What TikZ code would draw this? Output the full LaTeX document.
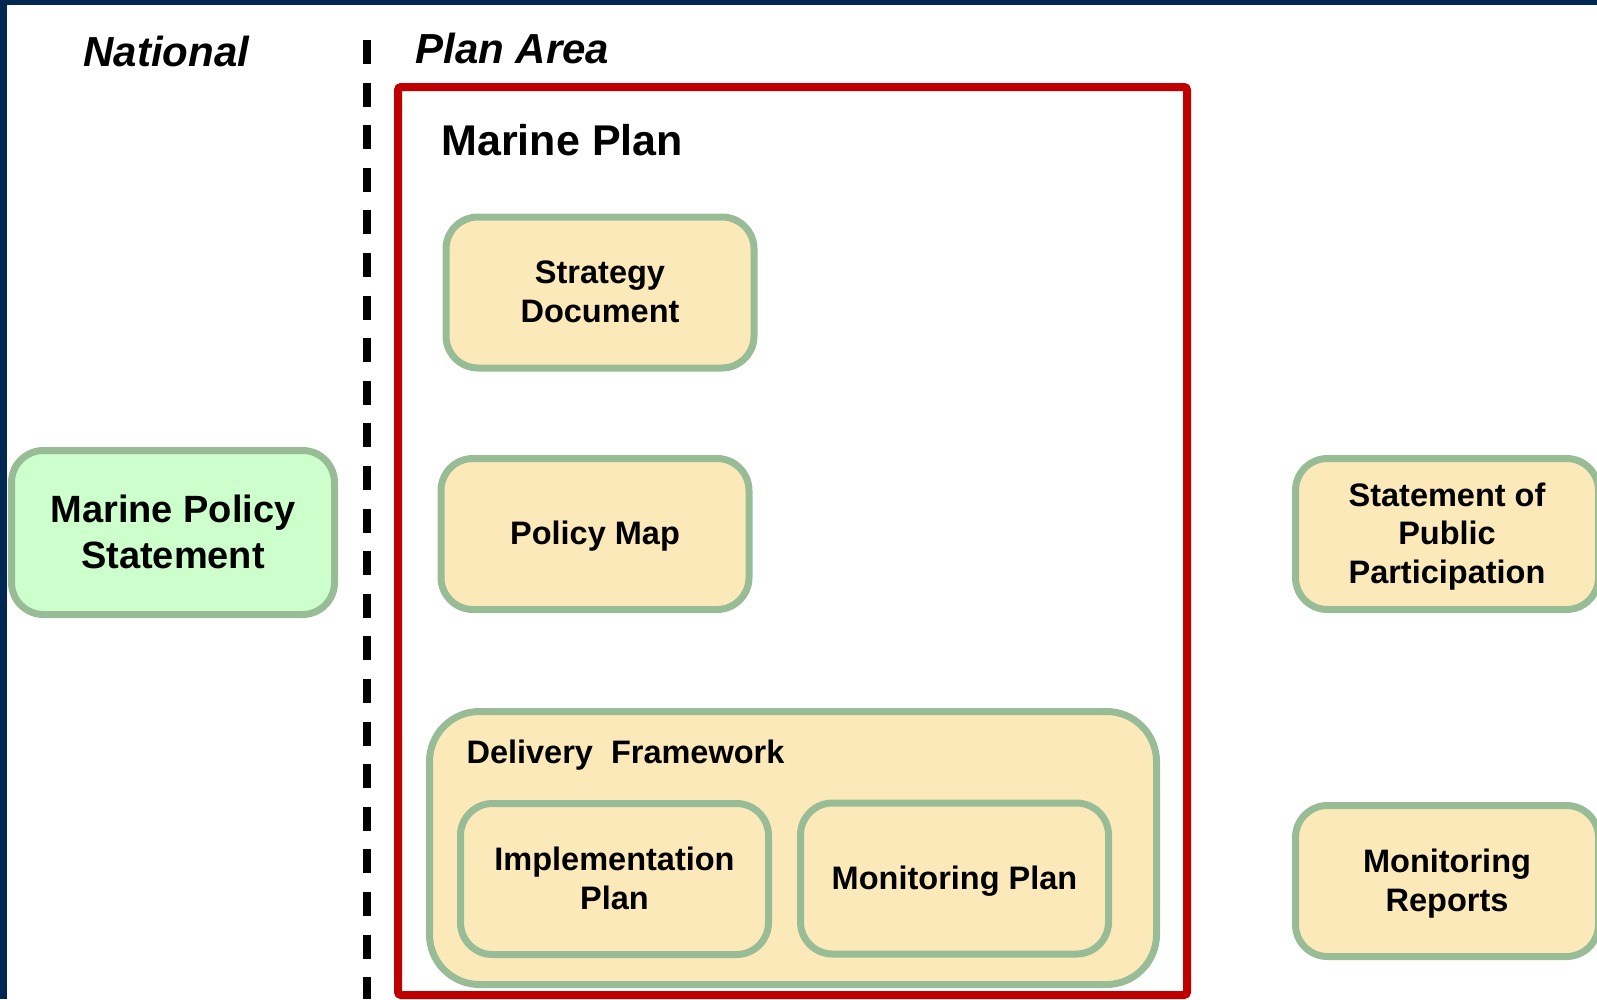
\documentclass[tikz,border=0pt]{standalone}
\usepackage{fontspec}
\setmainfont{Liberation Sans}
\usetikzlibrary{positioning}

\definecolor{navy}{HTML}{002852}
\definecolor{planred}{HTML}{C00000}
\definecolor{boxline}{HTML}{98BD96}
\definecolor{boxfill}{HTML}{FCE9BA}
\definecolor{mpsfill}{HTML}{CCFFCC}

\begin{document}
\begin{tikzpicture}[x=1pt,y=-1pt,
	box/.style={draw=boxline,fill=boxfill,line width=7pt,rounded corners=32pt,
		minimum width=308pt,minimum height=151pt,align=center,text depth=2pt,
		font=\fontsize{32.5}{38.5}\selectfont\bfseries},
	heading/.style={anchor=base west,font=\fontsize{42}{48}\selectfont\bfseries\itshape}]

\useasboundingbox (0,0) rectangle (1597,999);

\fill[color=navy] (0,0) rectangle (1597,5);
\fill[color=navy] (0,0) rectangle (7,999);

\draw[line width=8pt,dash pattern=on 24pt off 18.6pt] (367,40)--(367,999);

\node[heading] (national) at (80,66) {National};
\node[heading] (planarea) at (412,63) {Plan Area};

\draw[color=planred,line width=8pt,rounded corners=3pt] (398,87) rectangle (1187,995);
\node[anchor=base west,font=\fontsize{43}{48}\selectfont\bfseries] (marineplan) at (438,155) {Marine Plan};

\node[box,minimum width=323pt,minimum height=164pt,fill=mpsfill,
	font=\fontsize{38}{46}\selectfont\bfseries] (mps) at (173,532.5) {Marine Policy\\Statement};

\node[box] (strategy) at (600,292.5) {Strategy\\Document};
\node[box] (policymap) at (595,534) {Policy Map};

\node[box,rounded corners=50pt,minimum width=727pt,minimum height=273pt] (delivery) at (793,848) {};
\node[anchor=base west,font=\fontsize{32.5}{38}\selectfont\bfseries] (deliverylabel) at (463,763) {Delivery\ \ Framework};
\node[box] (implplan) at (614.5,879) {Implementation\\Plan};
\node[box] (monplan) at (954.5,878.5) {Monitoring Plan};

\node[box,minimum width=303pt] (spp) at (1447,534) {Statement of\\Public\\Participation};
\node[box,minimum width=303pt] (monreports) at (1447,881) {Monitoring\\Reports};

\end{tikzpicture}
\end{document}
